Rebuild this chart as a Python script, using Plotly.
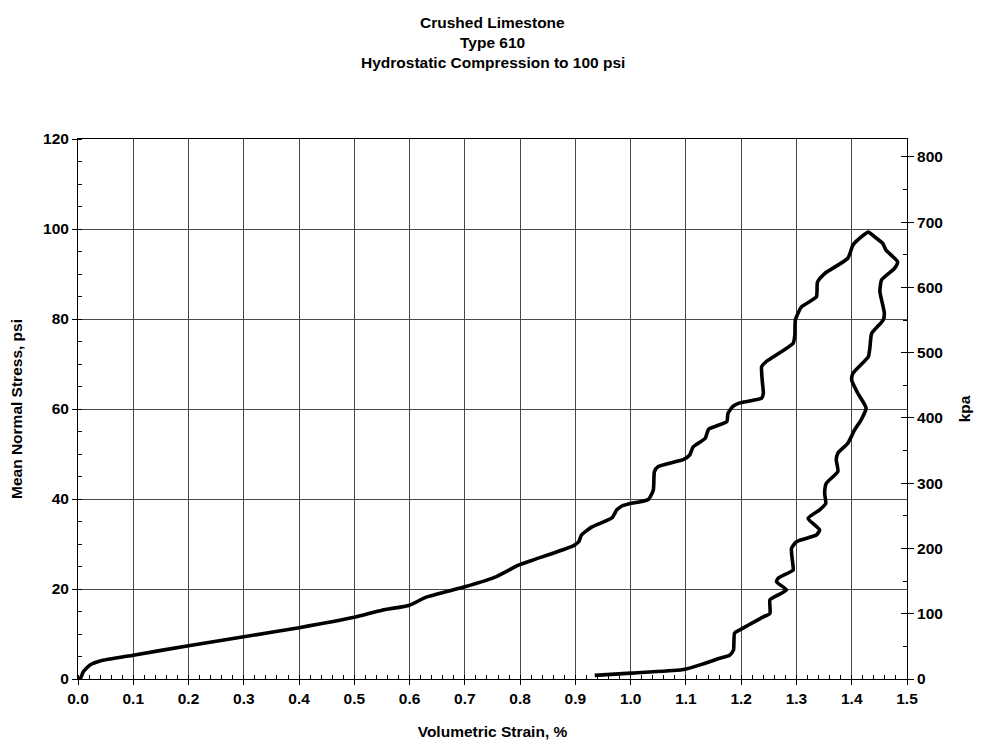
import plotly.graph_objects as go

# Volumetric strain (%) and mean normal stress (psi)
strain = [0.0, 0.005, 0.0096, 0.0217, 0.04, 0.1, 0.2, 0.3, 0.4, 0.5, 0.55, 0.6, 0.63, 0.7,
          0.756, 0.797, 0.822, 0.896, 0.906, 0.911, 0.93, 0.966, 0.975, 0.985, 0.996, 1.032,
          1.041, 1.043, 1.05, 1.096, 1.107, 1.113, 1.135, 1.141, 1.174, 1.176, 1.185, 1.196,
          1.237, 1.24, 1.238, 1.237, 1.245, 1.294, 1.297, 1.298, 1.309, 1.336, 1.338, 1.351,
          1.393, 1.402, 1.414, 1.43,
          1.441, 1.456, 1.462, 1.483, 1.477, 1.454, 1.451, 1.459, 1.457, 1.436, 1.433, 1.43,
          1.402, 1.4, 1.411, 1.426, 1.417, 1.405, 1.393, 1.375, 1.372, 1.375, 1.354, 1.351,
          1.353, 1.342, 1.321, 1.342, 1.336, 1.3, 1.291, 1.294, 1.294, 1.267, 1.264, 1.282,
          1.267, 1.252, 1.252, 1.24, 1.197, 1.188, 1.186, 1.179, 1.161, 1.13, 1.1, 1.09,
          1.0, 0.935]
stress = [0.0, 0.3, 1.6, 3.1, 4.0, 5.3, 7.4, 9.4, 11.4, 13.7, 15.3, 16.4, 18.2, 20.5,
          22.7, 25.3, 26.4, 29.6, 30.5, 32.0, 33.8, 35.8, 37.6, 38.5, 38.9, 39.9,
          42.0, 46.1, 47.2, 48.8, 49.8, 51.6, 53.5, 55.5, 57.2, 59.0, 60.6, 61.3,
          62.4, 63.5, 66.4, 69.4, 70.5, 74.6, 76.4, 79.8, 82.7, 84.9, 88.2, 90.1,
          93.5, 96.4, 97.9, 99.3,
          98.3, 96.8, 95.3, 92.7, 91.2, 88.7, 86.1, 81.3, 79.8, 76.8, 73.8, 71.6,
          67.9, 66.4, 63.5, 60.2, 57.6, 55.3, 52.4, 50.2, 48.7, 46.1, 43.5, 41.3,
          39.0, 37.6, 35.7, 33.1, 32.0, 30.5, 29.0, 24.9, 24.2, 22.4, 21.6, 19.8,
          18.7, 17.6, 14.6, 13.8, 10.9, 10.2, 6.4, 5.3, 4.6, 3.3, 2.2, 2.0,
          1.3, 0.8]

x_ticks = [0.0, 0.1, 0.2, 0.3, 0.4, 0.5, 0.6, 0.7, 0.8, 0.9, 1.0, 1.1, 1.2, 1.3, 1.4, 1.5]
psi_ticks = [0, 20, 40, 60, 80, 100, 120]
kpa_ticks = [0, 100, 200, 300, 400, 500, 600, 700, 800]
PSI_TO_KPA = 6.894757
PSI_MAX = 120

FONT = "Liberation Sans, Arial, sans-serif"
FS = 15.5
tickfont = dict(family=FONT, size=FS, color="black", weight="bold")
GRID = "#4a4a4a"

fig = go.Figure()
fig.add_trace(go.Scatter(x=strain, y=stress, mode="lines",
                         line=dict(color="black", width=3.6, shape="spline", smoothing=0.5),
                         hoverinfo="skip", showlegend=False))
# invisible traces to anchor the kPa axes
fig.add_trace(go.Scatter(x=[0], y=[0], yaxis="y2", mode="markers", opacity=0,
                         hoverinfo="skip", showlegend=False))
fig.add_trace(go.Scatter(x=[0], y=[0], yaxis="y3", mode="markers", opacity=0,
                         hoverinfo="skip", showlegend=False))

fig.update_layout(
    width=976, height=737,
    margin=dict(l=70, r=77, t=131, b=66, autoexpand=False),
    paper_bgcolor="white", plot_bgcolor="white",
    showlegend=False,
    xaxis=dict(range=[0, 1.5], tickvals=x_ticks, tickformat=".1f", automargin=False,
               showgrid=True, gridcolor=GRID, gridwidth=1,
               showline=True, linecolor="black", linewidth=1, mirror=True,
               ticks="outside", ticklen=5, tickcolor="black",
               minor=dict(dtick=0.02, ticks="inside", ticklen=4, tickcolor="black", showgrid=False),
               tickfont=tickfont, zeroline=False,
               title=dict(text="<b>Volumetric Strain, %</b>", font=dict(family=FONT, size=FS, color="black"),
                          standoff=20)),
    yaxis=dict(range=[0, PSI_MAX], tickvals=psi_ticks, automargin=False,
               showgrid=True, gridcolor=GRID, gridwidth=1,
               showline=True, linecolor="black", linewidth=1,
               ticks="outside", ticklen=5, tickcolor="black",
               minor=dict(dtick=5, ticks="inside", ticklen=4, tickcolor="black", showgrid=False),
               tickfont=tickfont, zeroline=False,
               title=dict(text="<b>Mean Normal Stress, psi</b>", font=dict(family=FONT, size=FS, color="black"),
                          standoff=19)),
    yaxis2=dict(range=[0, PSI_MAX * PSI_TO_KPA], tickvals=kpa_ticks, overlaying="y", side="right",
                anchor="x", automargin=False, showgrid=False, showline=True, linecolor="black", linewidth=1,
                ticks="outside", ticklen=6, tickcolor="black",
                minor=dict(dtick=50, ticks="inside", ticklen=4, tickcolor="black", showgrid=False),
                tickfont=tickfont, zeroline=False,
                title=dict(text="<b>kpa</b>", font=dict(family=FONT, size=FS, color="black"), standoff=17)),
    yaxis3=dict(range=[0, PSI_MAX * PSI_TO_KPA], tickvals=kpa_ticks, overlaying="y", side="right",
                anchor="x", automargin=False, showgrid=False, showline=False, showticklabels=False,
                ticks="inside", ticklen=6, tickcolor="black", zeroline=False),
)

titles = ["Crushed Limestone", "Type 610", "Hydrostatic Compression to 100 psi"]
title_py = [22, 42, 62]
for txt, py in zip(titles, title_py):
    fig.add_annotation(text=f"<b>{txt}</b>", xref="paper", yref="paper",
                       x=0.5, y=(679 - py) / 540, xanchor="center", yanchor="middle",
                       showarrow=False, font=dict(family=FONT, size=FS, color="black"))

fig.write_html("out.html")
